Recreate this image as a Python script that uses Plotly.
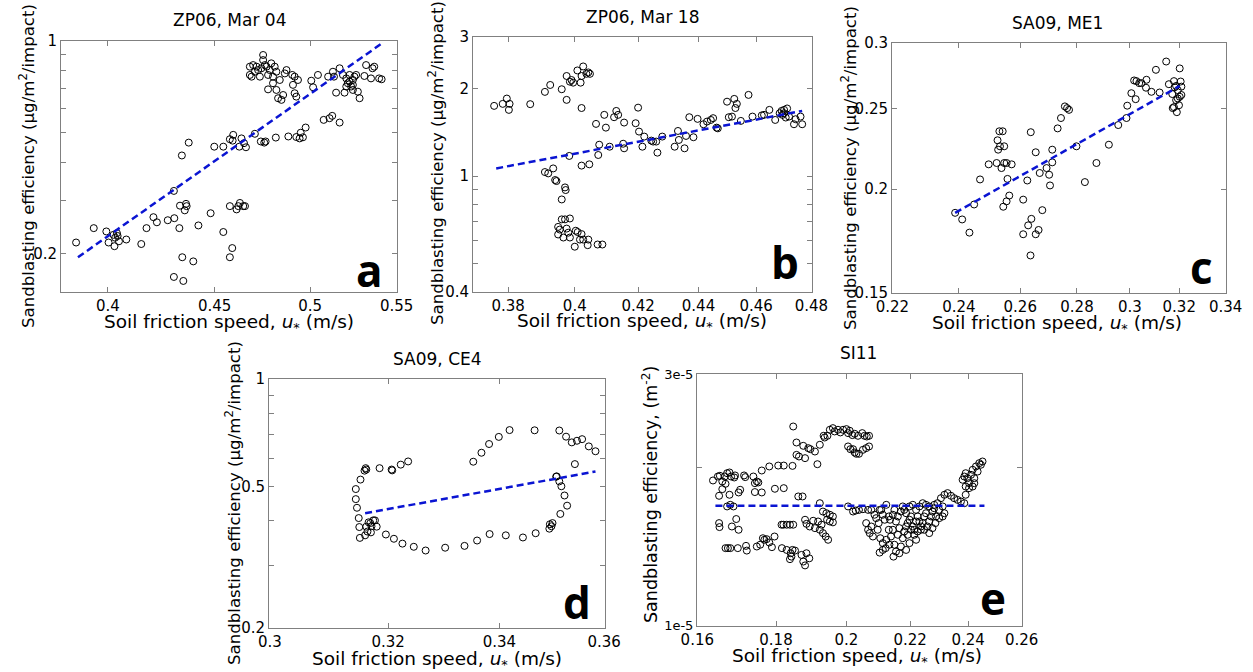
import math
import plotly.graph_objects as go

# ---------------- data ----------------
# Panel a: ZP06, Mar 04
a_u = [0.3862,0.3938,0.3993,0.4003,0.4025,0.4029,0.4040,0.4043,0.4032,0.4049,0.4082,0.4150,0.4174,0.4206,0.4222,0.4273,0.4304,0.4302,0.4331,0.4360,0.4363,0.4354,0.4328,0.4420,0.4480,0.4543,0.4588,0.4576,0.4342,0.4395,0.4302,0.4347,0.4340,0.4373,0.4498,0.4543,0.4576,0.4593,0.4590,0.4624,0.4635,0.4648,0.4658,0.4704,0.4735,0.4753,0.4760,0.4814,0.4881,0.4924,0.4948,0.4942,0.4960,0.4975,0.5075,0.5108,0.5123,0.5165,0.4576,0.4619,0.4627,0.4644,0.4610,0.4653,
       0.4747,0.4747,0.4695,0.4765,0.4790,0.4721,0.4678,0.4730,0.4773,0.4799,0.4817,0.4835,0.4862,0.4817,0.4773,0.4826,0.4844,0.4853,0.4871,0.4902,0.4915,0.4933,0.4906,0.4915,0.4924,0.5006,0.5016,0.5043,0.5100,0.5127,0.5165,0.5184,0.5203,0.5212,0.5145,0.5193,0.5241,0.5280,0.5241,0.5250,0.5260,0.5308,0.5318,0.5347,0.5356,0.5366,0.5395,0.5410,0.5133,0.5222,0.5231,0.5270,
       0.4713,0.4738,0.4756,0.4782,0.4704,0.4808,0.4678,0.4687,0.4799,0.5222,0.5203,0.5241]
a_eff = [0.218,0.243,0.237,0.218,0.231,0.212,0.234,0.229,0.226,0.220,0.223,0.2155,0.243,0.264,0.254,0.258,0.262,0.322,0.288,0.292,0.287,0.278,0.243,0.248,0.272,0.236,0.209,0.195,0.195,0.189,0.168,0.163,0.421,0.464,0.450,0.450,0.476,0.492,0.471,0.450,0.479,0.462,0.448,0.496,0.468,0.464,0.468,0.482,0.486,0.484,0.500,0.479,0.483,0.520,0.551,0.558,0.568,0.540,0.287,0.287,0.294,0.287,0.280,0.287,
         0.900,0.866,0.834,0.824,0.845,0.803,0.774,0.764,0.774,0.764,0.793,0.745,0.783,0.691,0.694,0.649,0.641,0.665,0.803,0.774,0.764,0.745,0.718,0.674,0.657,0.741,0.705,0.774,0.764,0.793,0.814,0.774,0.754,0.727,0.677,0.677,0.691,0.649,0.745,0.764,0.774,0.768,0.834,0.754,0.814,0.824,0.754,0.749,0.764,0.774,0.709,0.682,
         0.824,0.814,0.834,0.803,0.793,0.824,0.824,0.764,0.727,0.736,0.709,0.718]
a_fit_u = [0.387, 0.542]
a_fit_eff = [0.195, 0.99]

# Panel b: ZP06, Mar 18
b_u = [0.3759,0.3784,0.3796,0.3804,0.3802,0.3865,0.3909,0.3925,0.3960,0.3975,0.3975,0.3985,0.3990,0.3995,0.4008,0.4018,0.4026,0.4021,0.4036,0.4047,0.4042,0.4021,0.3983,0.4021,0.4045,0.3909,0.3919,0.3934,0.3940,0.3944,0.3970,0.3972,0.3960,0.3960,0.3970,0.3985,0.3949,0.3954,0.3975,0.3949,0.3965,0.3980,0.3985,0.4000,0.4003,0.4009,0.4016,0.4021,0.4026,0.4040,0.4042,0.4071,0.4086,
       0.4066,0.4073,0.4076,0.4092,0.4097,0.4109,0.4123,0.4130,0.4136,0.4155,0.4152,0.4155,0.4192,0.4200,0.4203,0.4214,0.4220,0.4243,0.4249,0.4259,0.4263,0.4279,0.4320,0.4331,0.4334,0.4353,0.4358,0.4369,0.4383,0.4397,0.4417,0.4429,0.4442,0.4450,0.4462,0.4466,0.4498,0.4504,0.4515,0.4523,0.4527,0.4532,0.4546,0.4573,0.4587,0.4620,0.4647,0.4668,0.4684,0.4691,0.4700,0.4706,0.4711,0.4718,0.4736,0.4742,0.4760,0.4766,0.4628,0.4694,0.4700]
b_eff = [1.741,1.769,1.845,1.769,1.687,1.765,1.945,2.054,1.986,1.826,2.205,2.108,2.136,2.092,2.304,2.092,2.378,2.205,2.243,2.243,2.268,1.712,1.172,1.086,1.097,1.032,1.021,1.062,0.969,0.961,0.914,0.895,0.831,0.710,0.710,0.715,0.669,0.655,0.660,0.630,0.615,0.639,0.615,0.572,0.649,0.642,0.605,0.632,0.605,0.579,0.605,0.582,0.582,
         1.510,1.181,1.281,1.622,1.466,1.261,1.592,1.673,1.622,1.526,1.291,1.245,1.518,1.717,1.421,1.261,1.366,1.323,1.313,1.313,1.203,1.366,1.261,1.428,1.330,1.245,1.373,1.592,1.359,1.571,1.506,1.538,1.558,1.580,1.466,1.458,1.800,1.592,1.600,1.840,1.712,1.769,1.546,1.899,1.600,1.615,1.687,1.558,1.643,1.673,1.643,1.588,1.706,1.600,1.506,1.567,1.600,1.506,1.622,1.622,1.687]
b_fit_u = [0.3765, 0.4766]
b_fit_eff = [1.062, 1.673]

# Panel c: SA09, ME1
c_u = [0.2388,0.2410,0.2433,0.2448,0.2467,0.2495,0.2521,0.2526,0.2524,0.2530,0.2541,0.2532,0.2546,0.2537,0.2554,0.2546,0.2571,0.2557,0.2563,0.2554,0.2543,0.2610,0.2624,0.2636,0.2653,0.2610,0.2627,0.2638,0.2653,0.2663,0.2635,0.2676,0.2667,0.2691,0.2700,0.2703,0.2711,0.2711,0.2730,0.2742,0.2756,0.2764,0.2771,0.2798,0.2829,0.2872,0.2919,0.2955,0.2987,0.2990,0.3006,0.3017,0.3023,0.3026,0.3037,0.3046,0.3066,0.3064,0.3086,0.3104,0.3119,0.3146,0.3157,0.3171,0.3178,0.3181,0.3187,0.3173,0.3178,0.3190,0.3194,0.3199,0.3202,0.3206,0.3209,0.3202,0.3209,0.3194,0.3187]
c_eff = [0.1873,0.1839,0.1773,0.1917,0.2055,0.2143,0.2151,0.2232,0.2291,0.2349,0.2349,0.2253,0.2253,0.2121,0.2151,0.2151,0.2143,0.2058,0.1965,0.1934,0.1905,0.1943,0.2049,0.2343,0.2216,0.1765,0.1809,0.1842,0.1765,0.1786,0.1664,0.1887,0.2092,0.2121,0.2082,0.2021,0.2232,0.2155,0.2368,0.2437,0.2517,0.2505,0.2493,0.2253,0.2040,0.2151,0.2263,0.2390,0.2437,0.2522,0.2611,0.2705,0.2568,0.2700,0.2685,0.2685,0.2710,0.2651,0.2621,0.2786,0.2616,0.2851,0.2677,0.2605,0.2700,0.2654,0.2664,0.2505,0.2512,0.2477,0.2573,0.2525,0.2797,0.2697,0.2659,0.2585,0.2598,0.2633,0.2561]
c_fit_u = [0.2388, 0.3202]
c_fit_eff = [0.1873, 0.2664]

# Panel d: SA09, CE4
d_u = [0.3144,0.3144,0.3146,0.3149,0.3150,0.3151,0.3152,0.3159,0.3161,0.3162,0.3185,0.3206,0.3207,0.3222,0.3235,0.3160,0.3164,0.3169,0.3171,0.3177,0.3180,0.3170,0.3196,0.3210,0.3225,0.3245,0.3266,0.3301,0.3336,0.3359,0.3382,0.3412,0.3444,0.3468,0.3494,0.3498,0.3500,0.3515,0.3528,0.3523,0.3517,0.3513,0.3507,0.3543,0.3583,0.3570,0.3557,0.3547,0.3537,0.3526,0.3513,0.3466,0.3419,0.3399,0.3381,0.3367,0.3352,0.3508,0.3495,0.3166,0.3174,0.3162]
d_eff = [0.491,0.460,0.435,0.407,0.384,0.358,0.522,0.553,0.562,0.557,0.562,0.557,0.554,0.575,0.587,0.364,0.373,0.394,0.386,0.401,0.385,0.371,0.366,0.356,0.345,0.338,0.330,0.336,0.340,0.352,0.367,0.364,0.359,0.369,0.380,0.386,0.394,0.418,0.441,0.471,0.500,0.516,0.532,0.577,0.627,0.647,0.678,0.671,0.664,0.689,0.717,0.718,0.719,0.688,0.657,0.621,0.586,0.533,0.391,0.396,0.401,0.385]
d_fit_u = [0.3160, 0.3583]
d_fit_eff = [0.420, 0.550]

# Panel e: SI11 (efficiency in m^-2, values x 1e-5)
e_u = [0.1638,0.1650,0.1655,0.1661,0.1667,0.1673,0.1679,0.1683,0.1691,0.1693,0.1653,0.1661,0.1669,0.1679,0.1673,0.1681,0.1689,0.1702,0.1706,0.1716,0.1719,0.1696,0.1685,0.1702,0.1653,0.1654,0.1669,0.1675,0.1681,0.1700,0.1721,0.1723,
       0.1740,0.1744,0.1749,0.1753,0.1762,0.1782,0.1806,0.1821,0.1845,0.1797,0.1821,0.1744,0.1762,0.1749,0.1758,0.1765,0.1769,0.1775,0.1782,0.1789,0.1796,0.1816,0.1829,0.1840,0.1842,0.1838,0.1845,0.1852,0.1870,0.1875,0.1880,0.1884,0.1892,
       0.1815,0.1820,0.1829,0.1838,0.1847,0.1861,0.1873,0.1856,0.1863,0.1847,0.1856,0.1875,0.1889,0.1895,0.1908,0.1880,0.1915,0.1922,0.1933,0.1936,0.1944,0.1951,0.1960,0.1965,0.1975,0.1982,0.1990,0.2000,0.2005,0.2010,0.2018,0.2025,0.2035,0.2048,0.2055,0.2062,0.2069,
       0.2005,0.2012,0.2020,0.2025,0.2030,0.2038,0.2050,0.2060,0.2069,0.1880,0.1884,0.1893,0.1903,0.1908,0.1917,0.1922,0.1927,0.1931,0.1939,0.1946,0.1943,0.1951,0.1960,0.1922,0.1931,0.1941,0.1951,0.1960,
       0.2005,0.2020,0.2028,0.2038,0.2050,0.2066,0.2076,0.2060,0.2066,0.2071,0.2081,0.2076,0.2086,0.2091,0.2099,0.2102,0.2107,0.2112,0.2118,0.2123,0.2131,0.2135,0.2144,0.2149,0.2096,0.2104,0.2112,0.2121,0.2102,0.2112,0.2123,0.2131,0.2138,0.2149,0.2154,0.2165,0.2170,0.2176,0.2181,0.2187,0.2192,0.2198,0.2203,0.2209,0.2214,0.2220,0.2225,0.2231,0.2236,0.2242,0.2247,0.2253,0.2258,0.2264,0.2270,0.2275,0.2281,
       0.2181,0.2187,0.2176,0.2170,0.2160,0.2154,0.2165,0.2198,0.2209,0.2220,0.2231,0.2242,0.2253,0.2264,0.2281,0.2292,0.2304,0.2316,0.2327,0.2339,0.2350,0.2362,0.2374,0.2386,0.2298,0.2310,0.2316,0.2287,
       0.2391,0.2380,0.2386,0.2391,0.2397,0.2403,0.2410,0.2416,0.2422,0.2428,0.2434,0.2440,0.2446,0.2452,0.2416,0.2403,0.2391,0.2422,
       0.2144,0.2160,0.2192,0.2198,0.2133,0.2146,0.2187,0.2203,0.2214,0.2225,0.2236,0.2220,0.2247,0.2264,0.2275,0.2285,0.2298,0.2310]
e_eff_1e5 = [1.886,1.919,1.925,1.878,1.919,1.947,1.953,1.919,1.911,1.928,1.764,1.816,1.859,1.772,1.684,1.696,1.684,1.790,1.811,1.928,1.914,1.594,1.543,1.521,1.566,1.539,1.404,1.404,1.404,1.404,1.418,1.389,
             1.919,1.864,1.878,1.870,1.970,2.005,2.013,2.013,2.010,1.819,1.824,1.793,1.790,1.414,1.425,1.466,1.456,1.460,1.439,1.410,1.477,1.404,1.393,1.373,1.353,1.338,1.393,1.389,1.363,1.324,1.302,1.373,1.343,
             1.555,1.555,1.555,1.555,1.555,1.759,1.759,2.109,2.094,2.387,2.226,2.194,2.172,2.162,2.140,2.079,2.025,2.204,2.292,2.275,2.292,2.353,2.370,2.336,2.353,2.326,2.353,2.360,2.319,2.343,2.299,2.312,2.292,2.319,2.292,2.285,2.292,
             2.188,2.162,2.162,2.131,2.119,2.119,2.156,2.172,2.188,1.589,1.561,1.543,1.582,1.532,1.577,1.521,1.555,1.499,1.477,1.456,1.589,1.577,1.571,1.708,1.647,1.635,1.624,1.612,
             1.684,1.647,1.654,1.659,1.664,1.659,1.659,1.566,1.521,1.499,1.477,1.543,1.624,1.600,1.566,1.659,1.659,1.624,1.589,1.696,1.612,1.589,1.624,1.659,1.521,1.466,1.435,1.404,1.377,1.393,1.456,1.521,1.477,1.425,1.383,1.373,1.414,1.466,1.510,1.543,1.566,1.589,1.612,1.543,1.521,1.577,1.612,1.577,1.543,1.566,1.612,1.635,1.543,1.577,1.612,1.647,1.671,
             1.659,1.635,1.684,1.647,1.612,1.577,1.532,1.684,1.696,1.659,1.684,1.708,1.696,1.684,1.696,1.708,1.746,1.772,1.785,1.764,1.746,1.733,1.721,1.708,1.659,1.684,1.635,1.612,
             1.772,1.892,1.919,1.947,1.905,1.864,1.933,1.976,1.905,2.005,1.961,2.034,2.020,2.049,1.837,1.824,1.837,1.864,
             1.521,1.488,1.488,1.435,1.425,1.353,1.393,1.521,1.488,1.510,1.521,1.456,1.521,1.499,1.532,1.566,1.600,1.612]
e_fit_u = [0.1644, 0.2459]
e_fit_eff_1e5 = [1.69, 1.69]

panel_titles = ["ZP06, Mar 04", "ZP06, Mar 18", "SA09, ME1", "SA09, CE4", "SI11"]
panel_letters = ["a", "b", "c", "d", "e"]
x_ranges = [(0.38, 0.55), (0.37, 0.48), (0.22, 0.34), (0.30, 0.36), (0.16, 0.26)]
y_ranges = [(0.15, 1.0), (0.4, 3.0), (0.15, 0.3), (0.2, 1.0), (1e-5, 3e-5)]
x_ticks = [[0.4, 0.45, 0.5, 0.55],
           [0.38, 0.40, 0.42, 0.44, 0.46, 0.48],
           [0.22, 0.24, 0.26, 0.28, 0.30, 0.32, 0.34],
           [0.30, 0.32, 0.34, 0.36],
           [0.16, 0.18, 0.20, 0.22, 0.24, 0.26]]
x_ticktext = [["0.4", "0.45", "0.5", "0.55"],
              ["0.38", "0.4", "0.42", "0.44", "0.46", "0.48"],
              ["0.22", "0.24", "0.26", "0.28", "0.3", "0.32", "0.34"],
              ["0.3", "0.32", "0.34", "0.36"],
              ["0.16", "0.18", "0.2", "0.22", "0.24", "0.26"]]
y_ticks = [[0.2, 0.3, 0.4, 0.5, 0.6, 0.7, 0.8, 0.9, 1.0],
           [0.4, 0.5, 0.6, 0.7, 0.8, 0.9, 1.0, 2.0, 3.0],
           [0.15, 0.2, 0.25, 0.3],
           [0.2, 0.3, 0.4, 0.5, 0.6, 0.7, 0.8, 0.9, 1.0],
           [1e-5, 2e-5, 3e-5]]
y_ticktext = [["0.2", "", "", "", "", "", "", "", "1"],
              ["0.4", "", "", "", "", "", "1", "2", "3"],
              ["0.15", "0.2", "0.25", "0.3"],
              ["0.2", "", "", "0.5", "", "", "", "", "1"],
              ["1e-5", "", "3e-5"]]
y_label_std = "Sandblasting efficiency (µg/m<sup>2</sup>/impact)"
y_label_e = "Sandblasting efficiency, (m<sup>-2</sup>)"
x_label = "Soil friction speed, <i>u</i><sub>*</sub> (m/s)"

# ---------------- layout geometry (pixels) ----------------
W, H = 1253, 672
boxes = [(61, 41, 397, 292), (473, 37, 812, 292), (892, 43, 1226, 293),
         (269, 379, 605, 628), (697, 374, 1022, 626)]
title_pos = [(229, 20), (642, 17), (1057, 23), (437, 359), (858, 353)]
xlab_pos = [(229, 323), (642, 322), (1057, 324), (437, 660), (857, 657)]
ylab_pos = [(27, 166), (436, 163), (849, 168), (233, 503), (650, 494)]
letter_pos = [(369, 270), (785, 262), (1201, 267), (577, 602), (993, 598)]

def px(x):
    return x / W

def py(y):
    return 1 - y / H

series = [(a_u, a_eff, a_fit_u, a_fit_eff),
          (b_u, b_eff, b_fit_u, b_fit_eff),
          (c_u, c_eff, c_fit_u, c_fit_eff),
          (d_u, d_eff, d_fit_u, d_fit_eff),
          (e_u, [v * 1e-5 for v in e_eff_1e5], e_fit_u, [v * 1e-5 for v in e_fit_eff_1e5])]

FONT = "DejaVu Sans"
BOXC = "#808080"
fig = go.Figure()
annotations = []
for i, (xs, ys, fx, fy) in enumerate(series):
    n = "" if i == 0 else str(i + 1)
    xa, ya = "x" + n, "y" + n
    fig.add_trace(go.Scatter(x=xs, y=ys, mode="markers", xaxis=xa, yaxis=ya,
                             marker=dict(symbol="circle-open", size=7, color="black",
                                         line=dict(width=1, color="black")),
                             showlegend=False, hoverinfo="x+y"))
    fig.add_trace(go.Scatter(x=fx, y=fy, mode="lines", xaxis=xa, yaxis=ya,
                             line=dict(color="#0a14d2", width=2.5, dash="7px,4px"),
                             showlegend=False, hoverinfo="skip"))
    x0, y0, x1, y1 = boxes[i]
    eps = 2e-4
    xr = [math.log10(x_ranges[i][0]) - eps, math.log10(x_ranges[i][1]) + eps]
    yr = [math.log10(y_ranges[i][0]) - eps, math.log10(y_ranges[i][1]) + eps]
    common = dict(showline=True, linecolor=BOXC, linewidth=1, mirror="ticks",
                  ticks="inside", ticklen=5, tickcolor=BOXC, tickwidth=1,
                  showgrid=False, zeroline=False, type="log", automargin=False)
    fig.update_layout(**{
        "xaxis" + n: dict(domain=[px(x0), px(x1)], range=xr, anchor=ya,
                          tickmode="array", tickvals=x_ticks[i], ticktext=x_ticktext[i],
                          tickfont=dict(family=FONT, size=15, color="black"), **common),
        "yaxis" + n: dict(domain=[py(y1), py(y0)], range=yr, anchor=xa,
                          tickmode="array", tickvals=y_ticks[i], ticktext=y_ticktext[i],
                          tickfont=dict(family=FONT, size=(13 if i == 4 else 15), color="black"),
                          **common),
    })
    tx, ty = title_pos[i]
    annotations.append(dict(text=panel_titles[i], x=px(tx), y=py(ty), xref="paper", yref="paper",
                            showarrow=False, xanchor="center", yanchor="middle",
                            font=dict(family=FONT, size=17, color="black")))
    lx, ly = xlab_pos[i]
    annotations.append(dict(text=x_label, x=px(lx), y=py(ly), xref="paper", yref="paper",
                            showarrow=False, xanchor="center", yanchor="middle",
                            font=dict(family=FONT, size=18.5, color="black")))
    vx, vy = ylab_pos[i]
    annotations.append(dict(text=(y_label_e if i == 4 else y_label_std), x=px(vx), y=py(vy),
                            xref="paper", yref="paper", textangle=-90,
                            showarrow=False, xanchor="center", yanchor="middle",
                            font=dict(family=FONT, size=(17.5 if i == 4 else 16.6), color="black")))
    gx, gy = letter_pos[i]
    annotations.append(dict(text="<b>" + panel_letters[i] + "</b>", x=px(gx), y=py(gy),
                            xref="paper", yref="paper", showarrow=False,
                            xanchor="center", yanchor="middle",
                            font=dict(family="Open Sans", size=44, color="black")))

fig.update_layout(width=W, height=H, margin=dict(l=0, r=0, t=0, b=0, autoexpand=False),
                  paper_bgcolor="white", plot_bgcolor="white",
                  annotations=annotations, showlegend=False)
fig.write_html("out.html", config={"displayModeBar": False},
               post_script="document.documentElement.style.margin='0';"
                           "document.body.style.margin='0';document.body.style.padding='0';"
                           "document.body.style.overflow='hidden';")
